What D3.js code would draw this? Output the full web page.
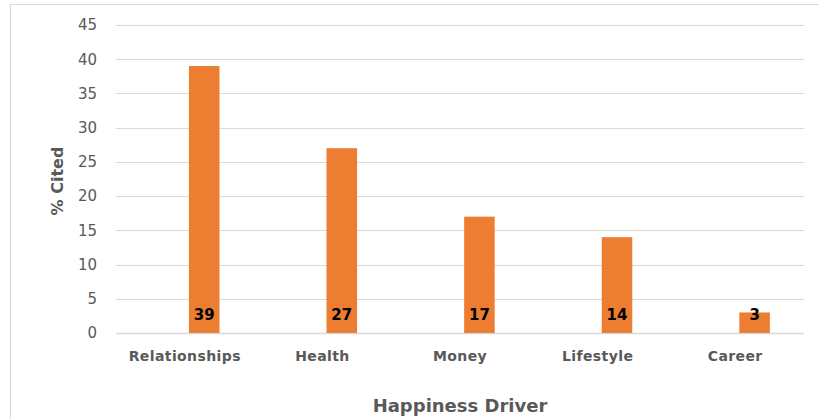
<!DOCTYPE html>
<html>
<head>
<meta charset="utf-8">
<script src="https://cdn.jsdelivr.net/npm/d3@7"></script>
<style>
  body { margin: 0; background: #fff; }
  text { font-family: "DejaVu Sans", sans-serif; }
</style>
</head>
<body>
<div id="chart"></div>
<script>
// Data
const drivers = ["Relationships", "Health", "Money", "Lifestyle", "Career"];
const cited = [39, 27, 17, 14, 3];
const yTicks = [0, 5, 10, 15, 20, 25, 30, 35, 40, 45];

const width = 819, height = 419;
const margins = {top: 25, right: 15, bottom: 86, left: 116};

const svg = d3.select("#chart")
  .append("svg")
    .attr("width", width)
    .attr("height", height)
    .attr("viewBox", [0, 0, width, height]);

// outer frame
svg.append("rect")
  .attr("x", 10.5).attr("y", 4.5)
  .attr("width", width + 10).attr("height", height + 10)
  .attr("fill", "none")
  .attr("stroke", "#d9d9d9");

const xScale = d3.scaleBand()
  .domain(drivers)
  .range([margins.left, width - margins.right]);

const yScale = d3.scaleLinear()
  .domain([0, 45])
  .range([height - margins.bottom, margins.top]);

// gridlines
svg.append("g")
  .selectAll("line")
  .data(yTicks)
  .join("line")
    .attr("x1", margins.left)
    .attr("x2", width - margins.right)
    .attr("y1", d => Math.round(yScale(d)) + 0.5)
    .attr("y2", d => Math.round(yScale(d)) + 0.5)
    .attr("stroke", "#d9d9d9")
    .attr("stroke-width", d => d === 0 ? 1.5 : 1);

// y axis tick labels
const yAxis = d3.axisLeft(yScale).tickValues(yTicks).tickSize(0).tickPadding(19);
svg.append("g")
  .attr("transform", `translate(${margins.left},0)`)
  .call(yAxis)
  .call(g => g.select(".domain").remove())
  .call(g => g.selectAll("text")
    .attr("fill", "#595959")
    .attr("font-size", 15)
    .attr("font-family", "DejaVu Sans, sans-serif"));

// bars (offset right inside band, as in the source chart)
const barW = xScale.bandwidth() * 0.222;
const barOff = xScale.bandwidth() * 0.53;
const rows = drivers.map((d, i) => ({driver: d, value: cited[i]}));

svg.append("g")
  .selectAll("rect")
  .data(rows)
  .join("rect")
    .attr("x", d => xScale(d.driver) + barOff)
    .attr("y", d => yScale(d.value))
    .attr("width", barW)
    .attr("height", d => yScale(0) - yScale(d.value))
    .attr("fill", "#ed7d31");

// value labels
svg.append("g")
  .selectAll("text")
  .data(rows)
  .join("text")
    .attr("x", d => xScale(d.driver) + barOff + barW / 2)
    .attr("y", yScale(0) - 13)
    .attr("text-anchor", "middle")
    .attr("font-size", 15)
    .attr("font-weight", "bold")
    .attr("fill", "#000")
    .text(d => d.value);

// x axis category labels
const xAxis = d3.axisBottom(xScale).tickSize(0).tickPadding(18);
svg.append("g")
  .attr("transform", `translate(0,${yScale(0)})`)
  .call(xAxis)
  .call(g => g.select(".domain").remove())
  .call(g => g.selectAll("text")
    .attr("fill", "#595959")
    .attr("font-size", 14)
    .attr("font-weight", "bold")
    .attr("letter-spacing", 0.4)
    .attr("font-family", "DejaVu Sans, sans-serif"));

// axis titles
svg.append("text")
  .attr("x", 460).attr("y", 412)
  .attr("text-anchor", "middle")
  .attr("font-size", 18)
  .attr("font-weight", "bold")
  .attr("fill", "#595959")
  .text("Happiness Driver");

svg.append("text")
  .attr("transform", "translate(63,181) rotate(-90)")
  .attr("text-anchor", "middle")
  .attr("font-size", 16)
  .attr("font-weight", "bold")
  .attr("fill", "#595959")
  .text("% Cited");
</script>
</body>
</html>
